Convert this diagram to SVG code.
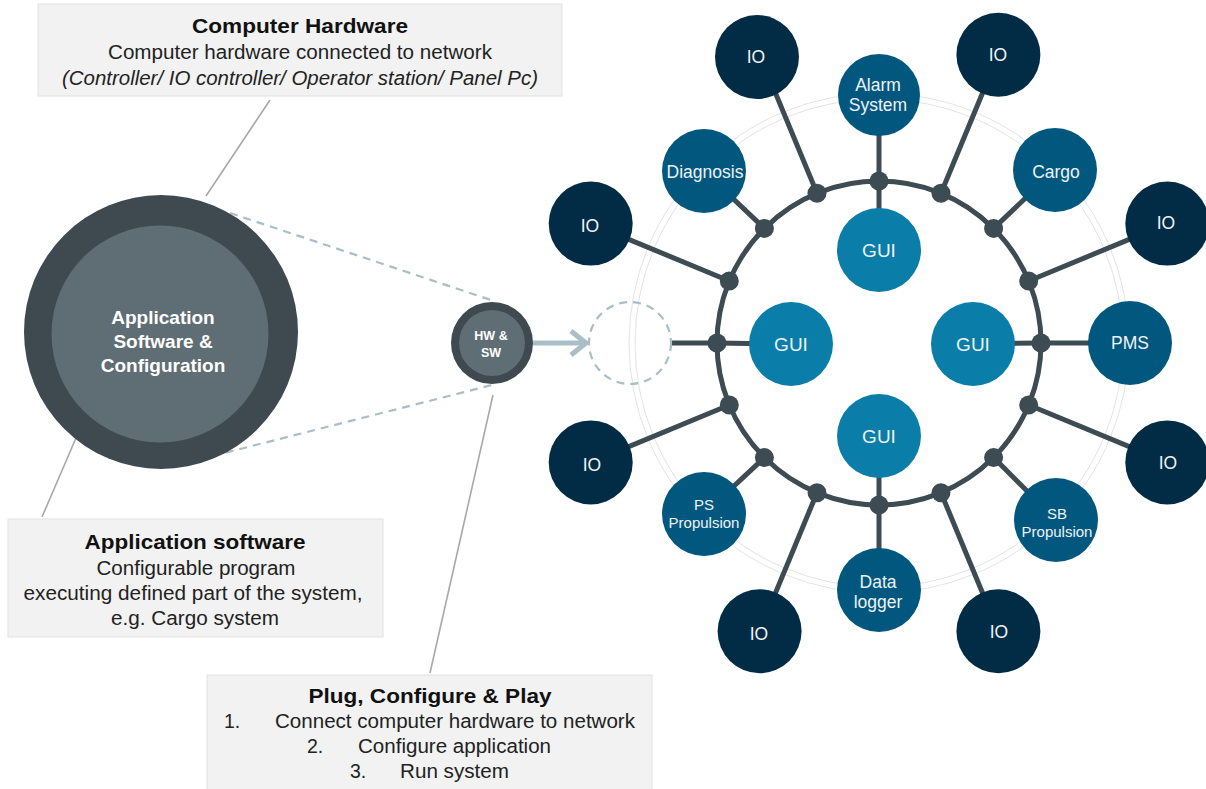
<svg xmlns="http://www.w3.org/2000/svg" width="1206" height="789" viewBox="0 0 1206 789">
<style>
text{font-family:"Liberation Sans",Arial,sans-serif;}
.box{fill:#f2f2f2;stroke:#e2e2e2;stroke-width:1;}
.bt{font-size:21px;font-weight:bold;fill:#111;text-anchor:middle;}
.tx{font-size:19.5px;fill:#222;text-anchor:middle;}
.ts{font-size:19.5px;fill:#222;}
.call{stroke:#a8a8a8;stroke-width:1.6;fill:none;}
.dash{stroke:#a9bec6;stroke-width:2.2;stroke-dasharray:8 6;fill:none;}
.spoke{stroke:#3d4b52;stroke-width:5;fill:none;}
.jn{fill:#3d4b52;}
.io{fill:#022c45;}
.mid{fill:#02577f;}
.gui{fill:#0a7ea8;}
.nt{fill:#eef3f6;text-anchor:middle;font-size:17.5px;}
.nts{fill:#eef3f6;text-anchor:middle;font-size:15px;}
.gt{fill:#eef3f6;text-anchor:middle;font-size:19px;}
.thin{stroke:#dcdcdc;stroke-width:0.8;fill:none;}
</style>

<g id="box-hardware">
<rect class="box" x="38" y="4" width="524" height="92"/>
<text class="bt" x="300" y="33" textLength="216" lengthAdjust="spacingAndGlyphs">Computer Hardware</text>
<text class="tx" x="300" y="59" textLength="384" lengthAdjust="spacingAndGlyphs">Computer hardware connected to network</text>
<text class="tx" x="300" y="85" font-style="italic" textLength="476" lengthAdjust="spacingAndGlyphs">(Controller/ IO controller/ Operator station/ Panel Pc)</text>
</g>
<g id="box-appsw">
<rect class="box" x="8" y="519" width="375" height="118"/>
<text class="bt" x="195" y="549" textLength="221" lengthAdjust="spacingAndGlyphs">Application software</text>
<text class="tx" x="196" y="575" textLength="199" lengthAdjust="spacingAndGlyphs">Configurable program</text>
<text class="tx" x="193" y="600" textLength="339" lengthAdjust="spacingAndGlyphs">executing defined part of the system,</text>
<text class="tx" x="195" y="625" textLength="168" lengthAdjust="spacingAndGlyphs">e.g. Cargo system</text>
</g>
<g id="box-plug">
<rect class="box" x="207" y="675" width="445" height="116"/>
<text class="bt" x="430" y="703" textLength="243" lengthAdjust="spacingAndGlyphs">Plug, Configure &amp; Play</text>
<text class="ts" x="224" y="728">1.</text>
<text class="ts" x="275" y="728" textLength="360" lengthAdjust="spacingAndGlyphs">Connect computer hardware to network</text>
<text class="ts" x="307" y="753">2.</text>
<text class="ts" x="358" y="753" textLength="193" lengthAdjust="spacingAndGlyphs">Configure application</text>
<text class="ts" x="350" y="778">3.</text>
<text class="ts" x="400" y="778" textLength="109" lengthAdjust="spacingAndGlyphs">Run system</text>
</g>

<g id="connectors">
<line class="call" x1="270" y1="100" x2="206" y2="196"/>
<line class="call" x1="82" y1="424" x2="42" y2="517"/>
<line class="call" x1="493" y1="395" x2="430" y2="673"/>
<line class="dash" x1="230" y1="213" x2="494" y2="301"/>
<line class="dash" x1="185" y1="463" x2="492" y2="385"/>
<line x1="533" y1="343" x2="585" y2="343" stroke="#a9bec6" stroke-width="5"/>
<polyline points="571,331 586,343 571,355" fill="none" stroke="#a9bec6" stroke-width="5" stroke-linejoin="miter"/>
<circle class="thin" cx="879" cy="343" r="244"/>
<circle class="thin" cx="879" cy="343" r="250"/>
<circle cx="879" cy="343" r="162" fill="none" stroke="#3d4b52" stroke-width="5"/>
<line class="spoke" x1="879" y1="181" x2="879" y2="95"/>
<line class="spoke" x1="941" y1="193.3" x2="998.4" y2="54.7"/>
<line class="spoke" x1="993.6" y1="228.4" x2="1055" y2="170"/>
<line class="spoke" x1="1028.7" y1="281" x2="1167.3" y2="223.6"/>
<line class="spoke" x1="1041" y1="343" x2="1130" y2="343"/>
<line class="spoke" x1="1028.7" y1="405" x2="1167.3" y2="462.4"/>
<line class="spoke" x1="993.6" y1="457.6" x2="1056" y2="520"/>
<line class="spoke" x1="941" y1="492.7" x2="998.4" y2="631.3"/>
<line class="spoke" x1="879" y1="505" x2="879" y2="590"/>
<line class="spoke" x1="817" y1="492.7" x2="759.6" y2="631.3"/>
<line class="spoke" x1="764.4" y1="457.6" x2="704" y2="514"/>
<line class="spoke" x1="729.3" y1="405" x2="590.7" y2="462.4"/>
<line class="spoke" x1="717" y1="343" x2="671" y2="343"/>
<line class="spoke" x1="729.3" y1="281" x2="590.7" y2="223.6"/>
<line class="spoke" x1="764.4" y1="228.4" x2="704" y2="171"/>
<line class="spoke" x1="817" y1="193.3" x2="759.6" y2="54.7"/>
<line class="spoke" x1="879" y1="181" x2="879" y2="250"/>
<line class="spoke" x1="879" y1="505" x2="879" y2="436"/>
<line class="spoke" x1="717" y1="343" x2="791" y2="344"/>
<line class="spoke" x1="1041" y1="343" x2="973" y2="344"/>
<g class="jn">
<circle cx="879" cy="181" r="9.5"/>
<circle cx="941" cy="193.3" r="9.5"/>
<circle cx="993.6" cy="228.4" r="9.5"/>
<circle cx="1028.7" cy="281" r="9.5"/>
<circle cx="1041" cy="343" r="9.5"/>
<circle cx="1028.7" cy="405" r="9.5"/>
<circle cx="993.6" cy="457.6" r="9.5"/>
<circle cx="941" cy="492.7" r="9.5"/>
<circle cx="879" cy="505" r="9.5"/>
<circle cx="817" cy="492.7" r="9.5"/>
<circle cx="764.4" cy="457.6" r="9.5"/>
<circle cx="729.3" cy="405" r="9.5"/>
<circle cx="717" cy="343" r="9.5"/>
<circle cx="729.3" cy="281" r="9.5"/>
<circle cx="764.4" cy="228.4" r="9.5"/>
<circle cx="817" cy="193.3" r="9.5"/>
</g>
</g>

<g id="app-circle">
<circle cx="161" cy="332" r="137" fill="#3e4a50"/>
<circle cx="160" cy="334" r="108.5" fill="#5f6d74"/>
<text x="163" y="324" fill="#ffffff" font-size="19" font-weight="bold" text-anchor="middle">Application</text>
<text x="163" y="348" fill="#ffffff" font-size="19" font-weight="bold" text-anchor="middle">Software &amp;</text>
<text x="163" y="372" fill="#ffffff" font-size="19" font-weight="bold" text-anchor="middle">Configuration</text>
</g>

<g id="hwsw">
<circle cx="492" cy="343" r="41" fill="#3e4a50"/>
<circle cx="492" cy="343" r="33" fill="#5f6d74"/>
<text x="491" y="340" fill="#ffffff" font-size="12.5" font-weight="bold" text-anchor="middle">HW &amp;</text>
<text x="491" y="357" fill="#ffffff" font-size="12.5" font-weight="bold" text-anchor="middle">SW</text>
</g>

<g id="slot">
<circle class="dash" cx="630" cy="343" r="41" stroke-dasharray="7 5"/>
</g>

<g id="gui-top"><circle class="gui" cx="879" cy="250" r="42"/><text class="gt" x="879" y="257">GUI</text></g>
<g id="gui-left"><circle class="gui" cx="791" cy="344" r="42"/><text class="gt" x="791" y="351">GUI</text></g>
<g id="gui-right"><circle class="gui" cx="973" cy="344" r="42"/><text class="gt" x="973" y="351">GUI</text></g>
<g id="gui-bottom"><circle class="gui" cx="879" cy="436" r="42"/><text class="gt" x="879" y="443">GUI</text></g>

<g id="alarm"><circle class="mid" cx="879" cy="95" r="41"/><text class="nt" x="878" y="91">Alarm</text><text class="nt" x="878" y="111">System</text></g>
<g id="cargo"><circle class="mid" cx="1055" cy="170" r="42"/><text class="nt" x="1056" y="178">Cargo</text></g>
<g id="pms"><circle class="mid" cx="1130" cy="343" r="42"/><text class="nt" x="1130" y="349">PMS</text></g>
<g id="sb"><circle class="mid" cx="1056" cy="520" r="42"/><text class="nts" x="1057" y="519">SB</text><text class="nts" x="1057" y="537">Propulsion</text></g>
<g id="datalogger"><circle class="mid" cx="879" cy="590" r="42"/><text class="nt" x="878" y="588">Data</text><text class="nt" x="878" y="608">logger</text></g>
<g id="ps"><circle class="mid" cx="704" cy="514" r="42"/><text class="nts" x="704" y="510">PS</text><text class="nts" x="704" y="528">Propulsion</text></g>
<g id="diagnosis"><circle class="mid" cx="704" cy="171" r="42"/><text class="nt" x="705" y="178">Diagnosis</text></g>

<g id="io1"><circle class="io" cx="757" cy="57" r="42"/><text class="nt" x="756" y="63">IO</text></g>
<g id="io2"><circle class="io" cx="998.4" cy="54.7" r="42"/><text class="nt" x="998" y="61">IO</text></g>
<g id="io3"><circle class="io" cx="1167.3" cy="223.6" r="42"/><text class="nt" x="1166" y="229">IO</text></g>
<g id="io4"><circle class="io" cx="1167.3" cy="462.4" r="42"/><text class="nt" x="1168" y="469">IO</text></g>
<g id="io5"><circle class="io" cx="998.4" cy="631.3" r="42"/><text class="nt" x="999" y="638">IO</text></g>
<g id="io6"><circle class="io" cx="759.6" cy="631.3" r="42"/><text class="nt" x="759" y="640">IO</text></g>
<g id="io7"><circle class="io" cx="590.7" cy="462.4" r="42"/><text class="nt" x="592" y="471">IO</text></g>
<g id="io8"><circle class="io" cx="590.7" cy="223.6" r="42"/><text class="nt" x="590" y="232">IO</text></g>
</svg>
